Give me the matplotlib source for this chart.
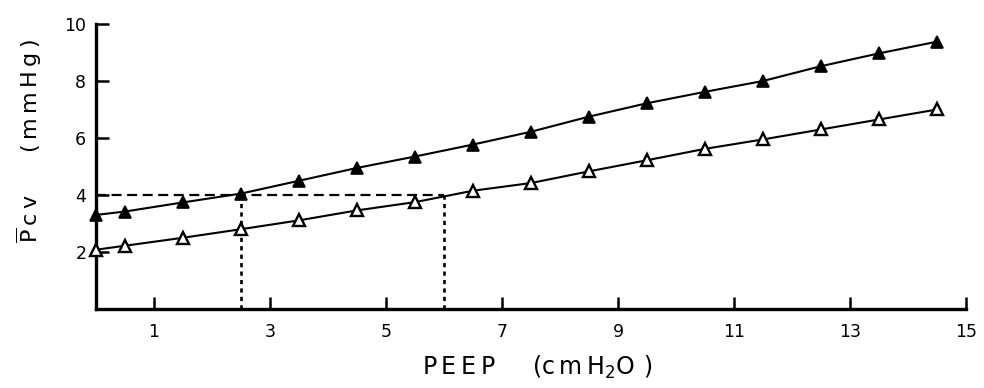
import matplotlib
matplotlib.use("Agg")
import matplotlib.pyplot as plt

peep = [0, 0.5, 1.5, 2.5, 3.5, 4.5, 5.5, 6.5, 7.5, 8.5, 9.5, 10.5, 11.5, 12.5, 13.5, 14.5]
pcv_filled = [3.3, 3.42, 3.74, 4.05, 4.5, 4.95, 5.35, 5.77, 6.22, 6.75, 7.22, 7.62, 8.0, 8.52, 8.97, 9.38]
pcv_open = [2.08, 2.22, 2.5, 2.8, 3.11, 3.46, 3.75, 4.15, 4.42, 4.83, 5.22, 5.62, 5.95, 6.3, 6.65, 7.0]
ref_level = 4
ref_x = [2.5, 6]
xticks = [1, 3, 5, 7, 9, 11, 13, 15]
yticks = [2, 4, 6, 8, 10]

plt.rcParams['font.family'] = ['DejaVu Sans']
plt.rcParams['mathtext.fontset'] = 'dejavusans'

fig = plt.figure(figsize=(9.84, 3.88), dpi=100)
ax = fig.add_axes([96/984, 1-309/388, (966-96)/984, (309-24)/388])

ax.plot(peep, pcv_filled, color='black', lw=1.5, marker='^', ms=8.5,
        mfc='black', mec='black', mew=1.2, clip_on=False, zorder=3)
ax.plot(peep, pcv_open, color='black', lw=1.5, marker='^', ms=8.5,
        mfc='white', mec='black', mew=1.7, clip_on=False, zorder=3)

ax.plot([0, ref_x[1]], [ref_level, ref_level], color='black', lw=1.6,
        ls=(0, (4.5, 2.5)), zorder=2)
for xv in ref_x:
    ax.plot([xv, xv], [0, ref_level], color='black', lw=1.9,
            ls=(0, (1.6, 1.6)), zorder=2)

ax.set_xlim(0, 15)
ax.set_ylim(0, 10)
ax.spines['top'].set_visible(False)
ax.spines['right'].set_visible(False)
ax.spines['left'].set_linewidth(2.4)
ax.spines['bottom'].set_linewidth(2.4)

ax.set_xticks(xticks)
ax.set_xticklabels([str(v) for v in xticks])
ax.set_yticks(yticks)
ax.set_yticklabels([str(v) for v in yticks])
ax.tick_params(axis='both', direction='in', length=9, width=1.8, labelsize=12.5)
ax.tick_params(axis='x', pad=10)
ax.tick_params(axis='y', pad=7)

xlab = 'P\u2009E\u2009E\u2009P     (c\u2009m\u2009H$_2$O\u2009\u2009)'
fig.text(538/984, 1-367/388, xlab, fontsize=17, ha='center', va='center')
ylab = r'$\overline{\mathrm{P}}$' + '\u2009c\u2009v      (\u2009m\u2009m\u2009H\u2009g\u2009)'
fig.text(29/984, 1-141/388, ylab, rotation=90,
         fontsize=16, ha='center', va='center')

fig.savefig('out.png', dpi=100)
